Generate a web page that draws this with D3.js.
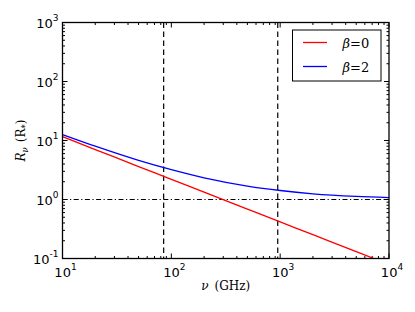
<html>
<head>
<script src="https://d3js.org/d3.v7.min.js"></script>
<style>
  body { margin: 0; background: #fff; }
  text { font-family: "DejaVu Sans", sans-serif; }
  .serif { font-family: "DejaVu Serif", serif; }
</style>
</head>
<body>
<div id="graph"></div>
<script>
// frequency samples (GHz) and R_nu values
freqs = [10, 20, 50, 100, 200, 500, 1000, 2000, 5000, 10000];
beta0 = [11.6, 7.03, 3.62, 2.20, 1.33, 0.687, 0.417, 0.253, 0.131, 0.079];
beta2 = [12.6, 8.0, 4.6, 3.2, 2.33, 1.69, 1.42, 1.25, 1.13, 1.08];
vlines = [85, 950];
hline = 1;
xTicks = [10, 100, 1000, 10000];
yTicks = [0.1, 1, 10, 100, 1000];
legendLabels = ["0", "2"];
colors = ["#ff0000", "#0000ff"];

margin = { top: 22.5, right: 26, bottom: 53.5, left: 62.5 };
width = 415;
height = 312;
w = width - margin.left - margin.right;
h = height - margin.top - margin.bottom;

svg = d3.select("#graph").append("svg")
    .attr("width", width).attr("height", height);
g = svg.append("g").attr("transform", `translate(${margin.left},${margin.top})`);

x = d3.scaleLog().domain([10, 10000]).range([0, w]);
y = d3.scaleLog().domain([0.1, 1000]).range([h, 0]);

g.append("clipPath").attr("id", "clip")
  .append("rect").attr("width", w).attr("height", h);

// minor ticks
function minors(lo, hi) {
    out = [];
    for (p = lo; p < hi; p *= 10)
        for (k = 2; k < 10; k++) out.push(p * k);
    return out;
}
xMinor = minors(10, 10000);
yMinor = minors(0.1, 1000);

ticks = g.append("g").attr("stroke", "#000").attr("stroke-width", 1);
xMinor.forEach(v => {
    ticks.append("line").attr("x1", x(v)).attr("x2", x(v)).attr("y1", h).attr("y2", h - 2.5);
    ticks.append("line").attr("x1", x(v)).attr("x2", x(v)).attr("y1", 0).attr("y2", 2.5);
});
xTicks.forEach(v => {
    ticks.append("line").attr("x1", x(v)).attr("x2", x(v)).attr("y1", h).attr("y2", h - 5);
    ticks.append("line").attr("x1", x(v)).attr("x2", x(v)).attr("y1", 0).attr("y2", 5);
});
yMinor.forEach(v => {
    ticks.append("line").attr("y1", y(v)).attr("y2", y(v)).attr("x1", 0).attr("x2", 2.5);
    ticks.append("line").attr("y1", y(v)).attr("y2", y(v)).attr("x1", w).attr("x2", w - 2.5);
});
yTicks.forEach(v => {
    ticks.append("line").attr("y1", y(v)).attr("y2", y(v)).attr("x1", 0).attr("x2", 5);
    ticks.append("line").attr("y1", y(v)).attr("y2", y(v)).attr("x1", w).attr("x2", w - 5);
});

// reference lines
vlines.forEach(v => {
    g.append("line").attr("x1", x(v)).attr("x2", x(v)).attr("y1", 0).attr("y2", h)
        .attr("stroke", "#000").attr("stroke-width", 1.2).attr("stroke-dasharray", "5.5,3.5");
});
g.append("line").attr("x1", 0).attr("x2", w).attr("y1", y(hline)).attr("y2", y(hline))
    .attr("stroke", "#000").attr("stroke-width", 1.2).attr("stroke-dasharray", "5,2.5,1.2,2.5");

// curves
line = d3.line()
    .x((d, i) => x(freqs[i]))
    .y(d => y(d))
    .curve(d3.curveMonotoneX);
[beta0, beta2].forEach((s, i) => {
    g.append("path").datum(s)
        .attr("clip-path", "url(#clip)")
        .attr("fill", "none").attr("stroke", colors[i]).attr("stroke-width", 1.3)
        .attr("d", line);
});

// frame
g.append("rect").attr("width", w).attr("height", h)
    .attr("fill", "none").attr("stroke", "#000").attr("stroke-width", 1.3);

// tick labels
function powLabel(sel, v) {
    e = Math.round(Math.log10(v));
    sel.append("tspan").text("10");
    sel.append("tspan").attr("dy", -6.5).attr("font-size", 9).text(e);
}
xTicks.forEach(v => {
    t = g.append("text").attr("x", x(v) + 3).attr("y", h + 18)
        .attr("text-anchor", "middle").attr("font-size", 13);
    powLabel(t, v);
});
yTicks.forEach(v => {
    t = g.append("text").attr("x", -4).attr("y", y(v) + 5)
        .attr("text-anchor", "end").attr("font-size", 13);
    powLabel(t, v);
});

// axis titles
xl = svg.append("text").attr("class", "serif").attr("x", margin.left + w / 2).attr("y", 290)
    .attr("text-anchor", "middle").attr("font-size", 12);
xl.append("tspan").attr("font-style", "italic").text("ν");
xl.append("tspan").attr("dx", 6).text("(GHz)");

yl = svg.append("text").attr("class", "serif")
    .attr("transform", `translate(25,${margin.top + h / 2}) rotate(-90)`)
    .attr("text-anchor", "middle").attr("font-size", 12);
yl.append("tspan").attr("font-style", "italic").text("R");
yl.append("tspan").attr("font-style", "italic").attr("font-size", 8.5).attr("dy", 3).text("ν");
yl.append("tspan").attr("dy", -3).attr("dx", 5).text("(R");
yl.append("tspan").attr("font-size", 8.5).attr("dy", 3).text("*");
yl.append("tspan").attr("dy", -3).text(")");

// legend
lg = svg.append("g").attr("transform", "translate(292.5,30)");
lg.append("rect").attr("width", 88.5).attr("height", 51)
    .attr("fill", "#fff").attr("stroke", "#000").attr("stroke-width", 1);
legendLabels.forEach((l, i) => {
    yy = 12.5 + i * 24;
    lg.append("line").attr("x1", 10.5).attr("x2", 34.5).attr("y1", yy).attr("y2", yy)
        .attr("stroke", colors[i]).attr("stroke-width", 1.3);
    t = lg.append("text").attr("class", "serif").attr("x", 50).attr("y", yy + 5)
        .attr("font-size", 13);
    t.append("tspan").attr("font-style", "italic").text("β");
    t.append("tspan").text("=" + l);
});
</script>
</body>
</html>
